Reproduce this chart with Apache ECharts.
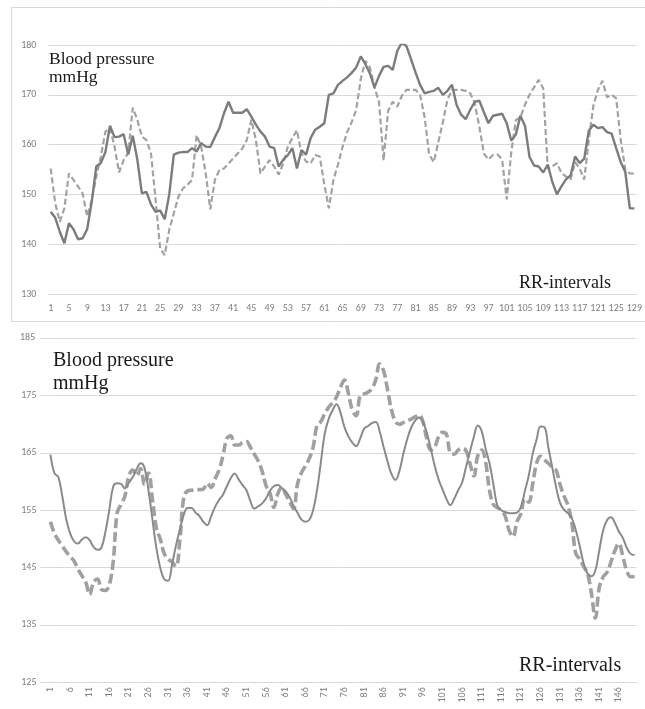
<!DOCTYPE html>
<html>
<head>
<meta charset="utf-8">
<script src="https://cdn.jsdelivr.net/npm/echarts@6/dist/echarts.min.js"></script>
<style>
  html, body { margin: 0; padding: 0; background: #ffffff; }
  #chart { width: 645px; height: 709px; }
</style>
</head>
<body>
<div id="chart"></div>
<script>
// Upper panel: systolic pressure over 129 RR-intervals
const topSolid = [
  146.5,145.3,142.5,140.2,144.2,143,141,141.2,143,148.5,
  155.6,156.3,158.5,163.8,161.5,161.6,162.1,158,161.8,157,
  150.2,150.5,148,146.5,146.8,145,150,158,158.4,158.5,
  158.5,159.3,158.6,160.3,159.6,159.5,161.5,163.3,166.3,168.6,
  166.4,166.4,166.4,167.1,165.6,164,162.6,161.6,159.6,159.3,
  155.6,157,157.9,159.3,155.2,158.9,158,161.3,163,163.6,
  164.3,170,170.3,172,172.8,173.5,174.4,175.5,177.7,176.2,
  174.3,171.5,173.8,175.6,175.8,175,178.8,180.5,179.8,177.2,
  174.5,172,170.3,170.6,170.8,171.4,170,170.8,172,168,
  166,165.1,167,168.6,168.8,166.5,164.3,165.8,166,166.2,
  164.3,160.8,162,165.8,163.8,157.5,155.8,155.6,154.4,156,
  152.5,150,151.6,153,153.8,157.6,156.3,157.2,162.8,164,
  163.3,163.5,162.5,162.2,159.3,156.5,154.5,147.2,147.2
];
const topDashed = [
  155.2,148.2,144.5,147.2,154.2,152.9,151.6,150.2,145.6,148.9,
  153.6,157.6,162.6,163.3,159.6,154.4,156.9,158.3,167.4,165,
  161.6,160.9,158.2,149,139.2,137.8,142.9,146.2,149.5,151.2,
  151.9,152.9,161.9,159.6,154.2,147,152.9,154.9,155.2,156.2,
  157.2,158.2,159.2,160.9,165,160.9,154.2,155.6,156.9,155.6,
  154,156.2,159.6,161.3,162.9,158.2,156.6,156.2,157.9,157.6,
  152,147.2,152.9,156,159.5,162.5,164.5,167,173.2,176.8,
  175.5,171.5,168.5,156.8,166.8,168.6,167.6,169.8,171,171,
  171,170,165.5,158,156.5,160.5,164.5,169,171,171,
  171,170.8,170.3,168.3,163.6,158.2,157,157.9,158,157,
  149,158.5,164.9,165.5,168,170,171.5,173,171.3,155.2,
  155.6,156.3,154.3,153.6,153,156.5,155.2,153,161,167.8,
  171,172.8,169.5,170,169.3,161,155,154.2,154.2
];

// Lower panel: systolic pressure over 150 RR-intervals
const bottomSolid = [
  164.7,161.5,160.8,157.5,153.5,151,149.6,149.2,149.9,150.3,
  149.8,148.6,148.1,148.5,151.2,155,159.1,159.7,159.6,158.8,
  159.8,160.8,162.2,163.2,162.4,158.5,153.5,148.5,145,143,
  142.7,145.5,148.8,151.6,154.2,155.4,155.4,154.6,154,153,
  152.4,154,155.6,156.8,157.7,159.2,160.6,161.4,160.4,159.4,
  158.5,156.6,155.3,155.7,156.2,157.1,158.4,159.2,159.4,158.9,
  158.3,157.3,155.8,154.6,153.4,153,153.3,155,158.5,163.5,
  168.5,171,172.5,173.5,172,169.5,167.9,166.8,166.2,167.5,
  169.2,169.7,170.2,170.4,168.7,166,163.5,161.3,160.3,161.8,
  164.8,167.4,169.4,170.6,171.2,170.4,168.5,165.8,162.8,160.4,
  158.7,157,155.9,157,158.5,159.8,162.5,165.2,167.8,169.8,
  168.8,165.8,163.2,159.5,155.8,155,154.7,154.5,154.5,154.6,
  155.5,158.3,161,164.8,167.3,169.6,169.5,166,162.5,159,
  156.3,155.1,154.5,153.6,151.6,148.8,145.8,144,143.5,144.5,
  148,151.5,153.3,153.8,152.8,151.3,150.2,148.5,147.4,147.2
];
const bottomDashed = [
  153,151,149.8,148.8,147.8,146.9,146.2,144.8,143.6,142.5,
  140.3,142.5,143,141.2,141,142,146,154.5,156,157.5,
  161,162,161,162.3,159.5,161.5,157,152,150,147.5,
  146.5,146,145.2,149.8,157.2,158.4,158.5,158.6,158.6,158.7,
  159.7,159,160.5,162,164.5,167.5,168,166.4,166.4,166.8,
  167,166,164.8,163.6,161.8,159.3,158,155.5,157.9,159,
  157.8,156.5,155.3,159.5,161.5,162.7,164,166,169.8,170.5,
  171.9,173,173.8,174.8,176.5,177.7,175.4,172.5,171.5,175,
  175.3,175.6,176.2,177.8,180.5,179.3,176,172.5,170.5,170,
  170.3,170.6,170.9,171.3,171.6,170.5,167.5,165.5,166,167.8,
  168.6,168.3,165,164.8,165.5,165.8,165.4,163.2,161,164.5,
  165.5,163.5,158.5,156,155.5,155,154,151.5,150.4,153,
  154.4,157,156.4,159.5,163.2,164.4,163.8,163.2,162.5,162,
  159.5,157.5,155.9,152.8,147.5,146.5,145.2,144,140.5,136.2,
  141.5,143.4,144.2,146,148,149.2,147,144.5,143.4,143.4
];

// RR-interval numbers along each x axis
const topCategories = topSolid.map((_, i) => String(i + 1));
const bottomCategories = bottomSolid.map((_, i) => String(i + 1));

// Axis ranges and tick values
const topRange = { min: 130, max: 180, step: 10 };
const bottomRange = { min: 125, max: 185, step: 10 };
const bottomTicks = [125, 135, 145, 155, 165, 175, 185];
// the top tick of the lower axis is labelled separately (see below)
const bottomAxisLabels = bottomTicks.slice(0, -1);
const bottomTopTick = bottomTicks[bottomTicks.length - 1];

const gridColor = '#d9d9d9';
const labelColor = '#7f7f7f';
const labelFont = 'Carlito, Lato, sans-serif';
const serif = '"Liberation Serif", "Times New Roman", serif';

const bottomGridLeft = 48.5;
const bottomGridTop = 338.3;
const yLabelMargin = 12;

const chart = echarts.init(document.getElementById('chart'), null, { renderer: 'canvas' });

chart.setOption({
  animation: false,
  backgroundColor: '#ffffff',
  grid: [
    { left: 48.4, top: 45, width: 129 * 4.573, height: 249 },
    { left: bottomGridLeft, top: bottomGridTop, width: 150 * 3.92, height: 344 }
  ],
  xAxis: [
    {
      gridIndex: 0, type: 'category', data: topCategories, boundaryGap: true,
      axisLine: { show: true, lineStyle: { color: gridColor, width: 1 } },
      axisTick: { show: false },
      axisLabel: { interval: 3, color: labelColor, fontSize: 10, fontFamily: labelFont, margin: 9 }
    },
    {
      gridIndex: 1, type: 'category', data: bottomCategories, boundaryGap: true,
      axisLine: { show: true, lineStyle: { color: gridColor, width: 1 } },
      axisTick: { show: false },
      axisLabel: { interval: 4, rotate: 90, color: labelColor, fontSize: 10, fontFamily: labelFont, margin: 5 }
    }
  ],
  yAxis: [
    {
      gridIndex: 0, type: 'value', min: topRange.min, max: topRange.max, interval: topRange.step,
      axisLine: { show: false }, axisTick: { show: false },
      splitLine: { show: true, lineStyle: { color: gridColor, width: 1 } },
      axisLabel: { color: labelColor, fontSize: 10, fontFamily: labelFont, margin: yLabelMargin }
    },
    {
      gridIndex: 1, type: 'value', min: bottomRange.min, max: bottomRange.max, interval: bottomRange.step,
      axisLine: { show: false },
      // ticks continue the gridlines a little past the left edge of the plot
      axisTick: { show: true, length: 8, customValues: bottomTicks, lineStyle: { color: gridColor, width: 1 } },
      splitLine: { show: true, lineStyle: { color: gridColor, width: 1 } },
      axisLabel: {
        color: labelColor, fontSize: 10, fontFamily: labelFont, margin: yLabelMargin,
        customValues: bottomAxisLabels
      }
    }
  ],
  series: [
    {
      type: 'line', xAxisIndex: 0, yAxisIndex: 0, data: topSolid,
      symbol: 'none', lineStyle: { color: '#7c7c7c', width: 2.4 }, z: 3
    },
    {
      type: 'line', xAxisIndex: 0, yAxisIndex: 0, data: topDashed,
      symbol: 'none', lineStyle: { color: '#a2a2a2', width: 2.2, type: [6, 3] }, z: 2
    },
    {
      type: 'line', xAxisIndex: 1, yAxisIndex: 1, data: bottomSolid, smooth: 0.4,
      symbol: 'none', lineStyle: { color: '#8a8a8a', width: 2 }, z: 3
    },
    {
      type: 'line', xAxisIndex: 1, yAxisIndex: 1, data: bottomDashed, smooth: 0.4,
      symbol: 'none', lineStyle: { color: '#a0a0a0', width: 3.6, type: [10, 4] }, z: 2
    }
  ],
  graphic: [
    {
      id: 'frame', type: 'rect', silent: true, z: 0,
      shape: { x: 11.5, y: 7.5, width: 660, height: 314 },
      style: { fill: 'none', stroke: gridColor, lineWidth: 1 }
    },
    { id: 't1', type: 'text', left: 49, top: 50, style: { text: 'Blood pressure', font: '17.5px ' + serif, fill: '#1a1a1a' } },
    { id: 't2', type: 'text', left: 49, top: 68, style: { text: 'mmHg', font: '17.5px ' + serif, fill: '#1a1a1a' } },
    { id: 't3', type: 'text', left: 519, top: 274, style: { text: 'RR-intervals', font: '18px ' + serif, fill: '#1a1a1a' } },
    { id: 'b1', type: 'text', left: 53, top: 351, style: { text: 'Blood pressure', font: '20px ' + serif, fill: '#1a1a1a' } },
    { id: 'b2', type: 'text', left: 53, top: 374, style: { text: 'mmHg', font: '20px ' + serif, fill: '#1a1a1a' } },
    { id: 'b3', type: 'text', left: 519, top: 656, style: { text: 'RR-intervals', font: '20px ' + serif, fill: '#1a1a1a' } }
  ]
});

// Label for the top tick of the lower value axis, placed through the axis scale
let topTickY = chart.convertToPixel({ yAxisIndex: 1 }, bottomTopTick);
if (Array.isArray(topTickY)) topTickY = topTickY[1];
if (typeof topTickY !== 'number' || !isFinite(topTickY)) topTickY = bottomGridTop;
chart.setOption({
  graphic: [{
    id: 'yTopTick', type: 'text', silent: true, zlevel: 1, z: 100,
    left: 20, top: topTickY - 6,
    style: {
      text: String(bottomTopTick), fill: labelColor,
      font: '10px ' + labelFont
    }
  }]
});
</script>
</body>
</html>
